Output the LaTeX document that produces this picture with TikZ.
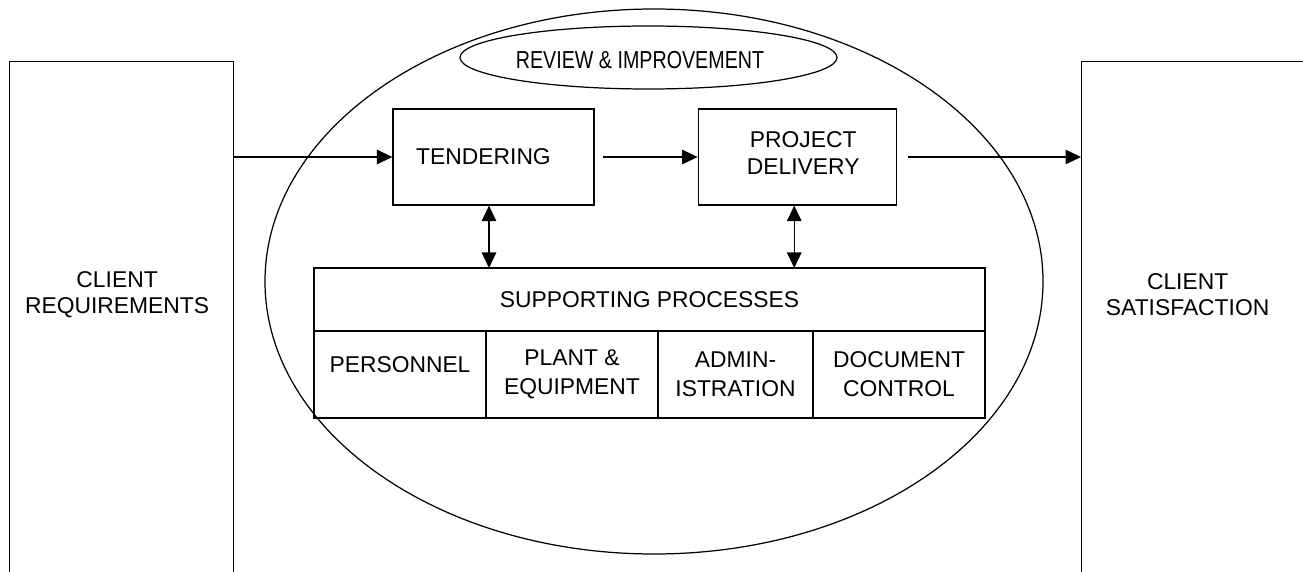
\documentclass[tikz,border=0pt]{standalone}
\usepackage{fontspec}
\setmainfont{Liberation Sans}
\usepackage{graphicx}
\usetikzlibrary{shapes.geometric, arrows.meta, positioning}

\begin{document}
\begin{tikzpicture}[
  every node/.style={font=\fontsize{13}{15}\selectfont},
  box/.style={draw, line width=0.7pt, minimum width=4.02cm, minimum height=1.92cm,
              align=center, inner sep=0pt},
  side/.style={draw, line width=0.7pt, minimum height=10.78cm, anchor=north west,
               inner sep=0pt},
  cell/.style={draw, line width=0.7pt, minimum height=1.74cm, inner sep=0pt,
               outer sep=0pt, align=center, font=\fontsize{13}{16.5}\selectfont},
  oval/.style={draw, ellipse, line width=0.7pt, inner sep=0pt},
  every label/.style={align=center, inner sep=0pt},
  arrow/.style={-{Triangle[length=0.31cm, width=0.29cm]}, line width=0.7pt},
  darrow/.style={{Triangle[length=0.31cm, width=0.29cm]}-{Triangle[length=0.31cm, width=0.29cm]},
                 line width=0.7pt},
]

\path[use as bounding box] (0,0) rectangle (26.06,-11.44);
\clip (0,0) rectangle (26.06,-11.44);

% Client side boxes
\node[side, minimum width=4.48cm,
      label={[xshift=-0.09cm, yshift=0.73cm]center:CLIENT\\REQUIREMENTS}] (creq) at (0.18,-1.22) {};
\node[side, minimum width=4.78cm,
      label={[xshift=-0.27cm, yshift=0.73cm]center:CLIENT\\SATISFACTION}] (csat) at (21.62,-1.22) {};

% Quality system ovals
\node[oval, minimum width=15.56cm, minimum height=10.9cm] (qms) at (13.08,-5.63) {};
\node[oval, minimum width=7.54cm, minimum height=1.26cm,
      label={[xshift=-0.17cm, yshift=-0.06cm]center:{\scalebox{0.8}[1]{\fontsize{14}{16}\selectfont REVIEW \& IMPROVEMENT}}}] (review) at (12.97,-1.15) {};

% Core processes
\node[box, label={[xshift=-0.2cm]center:TENDERING}] (tend) at (9.87,-3.14) {};
\node[box, minimum width=3.96cm, right=2.06cm of tend,
      label={[xshift=0.12cm, yshift=0.08cm]center:PROJECT\\DELIVERY}] (pd) {};

% Supporting processes table
\node[cell, minimum width=13.42cm, minimum height=1.26cm, anchor=north west] (sup) at (6.28,-5.36) {SUPPORTING PROCESSES};
\node[cell, minimum width=3.44cm, anchor=north west,
      label={[yshift=0.19cm]center:PERSONNEL}] (pers) at (sup.south west) {};
\node[cell, minimum width=3.44cm, right=0pt of pers]  (plant) {PLANT \&\\EQUIPMENT};
\node[cell, minimum width=3.10cm, right=0pt of plant] (admin) {ADMIN-\\ISTRATION};
\node[cell, minimum width=3.44cm, right=0pt of admin] (doc)   {DOCUMENT\\CONTROL};

% Arrows
\draw[arrow] (creq.east |- tend.west) -- (tend.west);
\draw[arrow] ([xshift=0.16cm]tend.east) -- (pd.west);
\draw[arrow] ([xshift=0.22cm]pd.east) -- (csat.west |- pd.east);
\draw[darrow] ([xshift=-0.09cm]tend.south) -- ([xshift=-0.09cm]tend.south |- sup.north);
\draw[darrow] ([xshift=-0.06cm]pd.south) -- ([xshift=-0.06cm]pd.south |- sup.north);

\end{tikzpicture}
\end{document}
